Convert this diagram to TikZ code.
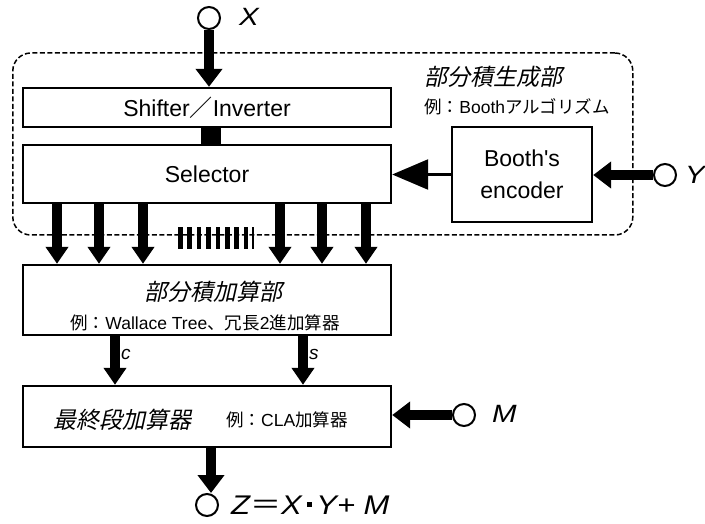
\documentclass[tikz,border=0pt]{standalone}
\usepackage{graphicx}
\usepackage{fontspec}
\setmainfont{Liberation Sans}[Ligatures=TeXOff]
\newfontfamily\jp{Noto Sans CJK JP}
\newfontfamily\jpit[FakeSlant=0.22]{Noto Sans CJK JP}
\usetikzlibrary{arrows.meta}
\newcommand\middot{\kern4pt\rule[7.5pt]{4.5pt}{4.5pt}\kern4pt}
\newcommand\wide[1]{\scalebox{1.18}[1]{#1}}
\begin{document}
\begin{tikzpicture}[x=1pt,y=-1pt,
  box/.style={draw, line width=2.4pt, rectangle, inner sep=0pt},
  port/.style={circle, draw, line width=2pt, minimum size=22pt, inner sep=0pt},
  bus/.style={line width=10pt, -{Triangle[width=26pt,length=18pt]}},
  tap/.style={line width=10pt, -{Triangle[width=22pt,length=17pt]}},
  ctl/.style={line width=2.5pt, -{Triangle[width=30pt,length=36pt]}},
  big/.style={font=\fontsize{23}{32}\selectfont},
  head/.style={font=\fontsize{23}{27}\selectfont\jpit, inner sep=0pt},
  note/.style={font=\fontsize{17.5}{22}\selectfont, inner sep=0pt},
  sig/.style={font=\fontsize{25}{30}\selectfont\itshape, inner sep=0pt, anchor=west},
  small/.style={font=\fontsize{19}{22}\selectfont\itshape, inner sep=0pt, anchor=west}]

\useasboundingbox (0,0) rectangle (705,524);
\fill[white] (0,0) rectangle (705,524);

% partial product generator group
\node[draw, line width=1.5pt, dash pattern=on 5pt off 2.5pt, rounded corners=18pt,
      minimum width=620pt, minimum height=182pt, inner sep=0pt] (ppg) at (322.8,144) {};
\node[head] (ppgtitle) at (493,77) {部分積生成部};
\node[note] (ppgnote) at (517,107) {{\jp 例：}Booth{\jp アルゴリズム}};

% blocks
\node[box, big, minimum width=368pt, minimum height=39pt] (shifter) at (207,107.5)
  {Shifter{\jp ／}Inverter};
\node[box, big, minimum width=368pt, minimum height=58pt] (selector) at (207,174) {Selector};
\node[box, big, align=center, minimum width=140pt, minimum height=95pt] (booth) at (522,174.5)
  {Booth's\\encoder};
\node[box, minimum width=368pt, minimum height=70pt] (ppa) at (207,300) {};
\node[head] (ppatitle) at (213,292) {部分積加算部};
\node[note] (ppanote) at (205,323) {{\jp 例：}Wallace Tree{\jp 、冗長}2{\jp 進加算器}};
\node[box, minimum width=368pt, minimum height=61pt] (fin) at (207,416.5) {};
\node[head] (fintitle) at (122,420) {最終段加算器};
\node[note] (finnote) at (287,420) {{\jp 例：}CLA{\jp 加算器}};

% ports
\node[port] (xport) at (209,18) {};
\node[sig] (xlab) at (239,17) {\wide{X}};
\node[port] (yport) at (665,175) {};
\node[sig] (ylab) at (685,175) {\wide{Y}};
\node[port] (mport) at (464,415) {};
\node[sig] (mlab) at (492,414) {\wide{M}};
\node[port] (zport) at (207,505) {};
\node[sig, font=\fontsize{27}{30}\selectfont\itshape] (zlab) at (231,505)
  {\scalebox{1.15}[1]{Z{\upshape\jp ＝}X\middot Y+ M}};

% connections
\draw[bus] (xport.south) -- (xport.south |- shifter.north);
\draw[line width=20pt] ([xshift=4pt]shifter.south) -- ([xshift=4pt]selector.north);
\draw[ctl] (booth.west) -- (booth.west -| selector.east);
\draw[bus] (yport.west) -- (yport.west -| booth.east);
\foreach \dx in {57,99,143,280,322,366}
  \draw[tap] ([xshift={(\dx-207)*1pt}]selector.south) -- ([xshift={(\dx-207)*1pt}]ppa.north);

% bus width marker
\foreach \i in {0,...,7}
  \fill ({178+9.4*\i},227) rectangle ++(4.6,22);
\fill (252,227) rectangle ++(2,22);

\draw[tap] ([xshift=-92pt]ppa.south) -- ([xshift=-92pt]fin.north);
\node[small] (clab) at (121,354) {c};
\draw[tap] ([xshift=96pt]ppa.south) -- ([xshift=96pt]fin.north);
\node[small] (slab) at (309,354) {s};
\draw[bus] (mport.west) -- (mport.west -| fin.east);
\draw[bus] ([xshift=4pt]fin.south) -- ([xshift=4pt]zport.north);
\end{tikzpicture}
\end{document}
